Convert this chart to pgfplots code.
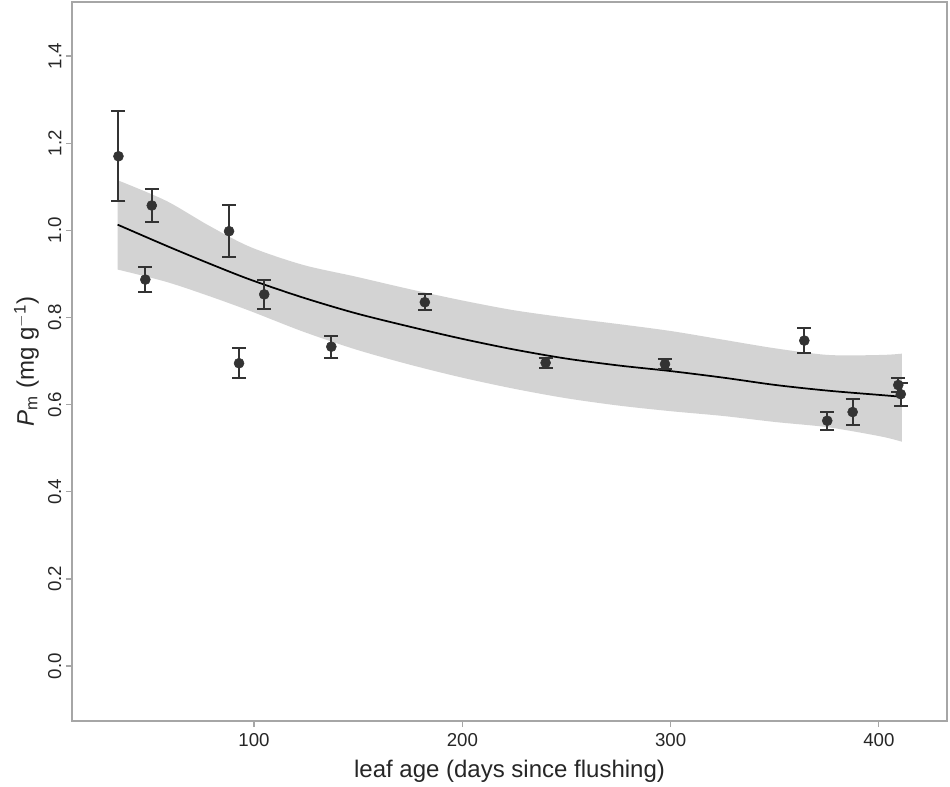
\documentclass[border=0pt]{standalone}
\usepackage{pgfplots}
\pgfplotsset{compat=1.18}
\usepgfplotslibrary{fillbetween}
\usepackage{fontspec}
\setmainfont{Liberation Sans}
\definecolor{bandgray}{HTML}{D3D3D3}
\definecolor{ptgray}{HTML}{333333}
\definecolor{axgray}{HTML}{A6A6A6}
\begin{document}
\begin{tikzpicture}
\begin{axis}[
  at={(54pt,46.5pt)}, anchor=south west,
  scale only axis, width=656.25pt, height=539.25pt,
  xmin=12.6, xmax=432.7, ymin=-0.126, ymax=1.524,
  xtick={100,200,300,400},
  ytick={0,0.2,0.4,0.6,0.8,1.0,1.2,1.4},
  yticklabel style={/pgf/number format/fixed,/pgf/number format/fixed zerofill,/pgf/number format/precision=1,rotate=90,anchor=south},
  xticklabel style={yshift=-1.5pt},
  /pgf/number format/assume math mode=true,
  tick align=outside, major tick length=4.5pt,
  tick style={axgray, line width=0.9pt},
  axis line style={axgray, line width=1pt},
  tick label style={font=\fontsize{14}{16}\selectfont, text=black!85},
  label style={font=\fontsize{18}{21}\selectfont, text=black!85},
  xlabel style={yshift=-3pt},
  xlabel={leaf age (days since flushing)},
  ylabel={\textit{P}\textsubscript{m} (mg g\textsuperscript{$-$1})},
  xtick pos=bottom, ytick pos=left,
]
\addplot[name path=up, draw=none, smooth] coordinates {
(34.5,1.115) (57.7,1.068) (77.9,1.012) (98.1,0.962) (123.3,0.921) (148.6,0.894) (173.8,0.866) (199,0.840) (224.3,0.817) (249.5,0.800) (274.8,0.785) (300,0.769) (325.2,0.749) (350.5,0.729) (375.7,0.714) (401,0.714) (411,0.717)};
\addplot[name path=lo, draw=none, smooth] coordinates {
(34.5,0.910) (57.7,0.882) (77.9,0.850) (98.1,0.815) (123.3,0.768) (148.6,0.727) (173.8,0.693) (199,0.663) (224.3,0.637) (249.5,0.615) (274.8,0.598) (300,0.585) (325.2,0.574) (350.5,0.560) (375.7,0.548) (401,0.527) (411,0.515)};
\addplot[bandgray] fill between[of=up and lo];
\addplot[black, line width=1.3pt, smooth] coordinates {
(34.5,1.013) (57.7,0.965) (77.9,0.925) (98.1,0.887) (123.3,0.846) (148.6,0.810) (173.8,0.780) (199,0.752) (224.3,0.727) (249.5,0.706) (274.8,0.690) (300,0.677) (325.2,0.662) (350.5,0.645) (375.7,0.632) (401,0.622) (411,0.618)};
\addplot[only marks, mark=*, mark size=3.75pt, ptgray, mark options={fill=ptgray, draw=ptgray},
  error bars/.cd, y dir=both, y explicit,
  error bar style={ptgray, line width=1.5pt},
  error mark options={rotate=90, mark size=5.25pt, line width=1.5pt, ptgray}]
coordinates {
(34.9,1.170) +- (0,0.103)
(50.9,1.057) +- (0,0.037)
(47.8,0.887) +- (0,0.029)
(88.0,0.998) +- (0,0.059)
(92.8,0.695) +- (0,0.035)
(104.9,0.853) +- (0,0.033)
(137.1,0.733) +- (0,0.025)
(182.0,0.835) +- (0,0.018)
(240.0,0.696) +- (0,0.012)
(297.3,0.693) +- (0,0.012)
(364.2,0.747) +- (0,0.028)
(375.2,0.563) +- (0,0.021)
(387.4,0.583) +- (0,0.030)
(409.3,0.645) +- (0,0.017)
(410.5,0.624) +- (0,0.026)
};
\end{axis}
\path (0,0) rectangle (712.5pt,587.25pt);
\end{tikzpicture}
\end{document}
